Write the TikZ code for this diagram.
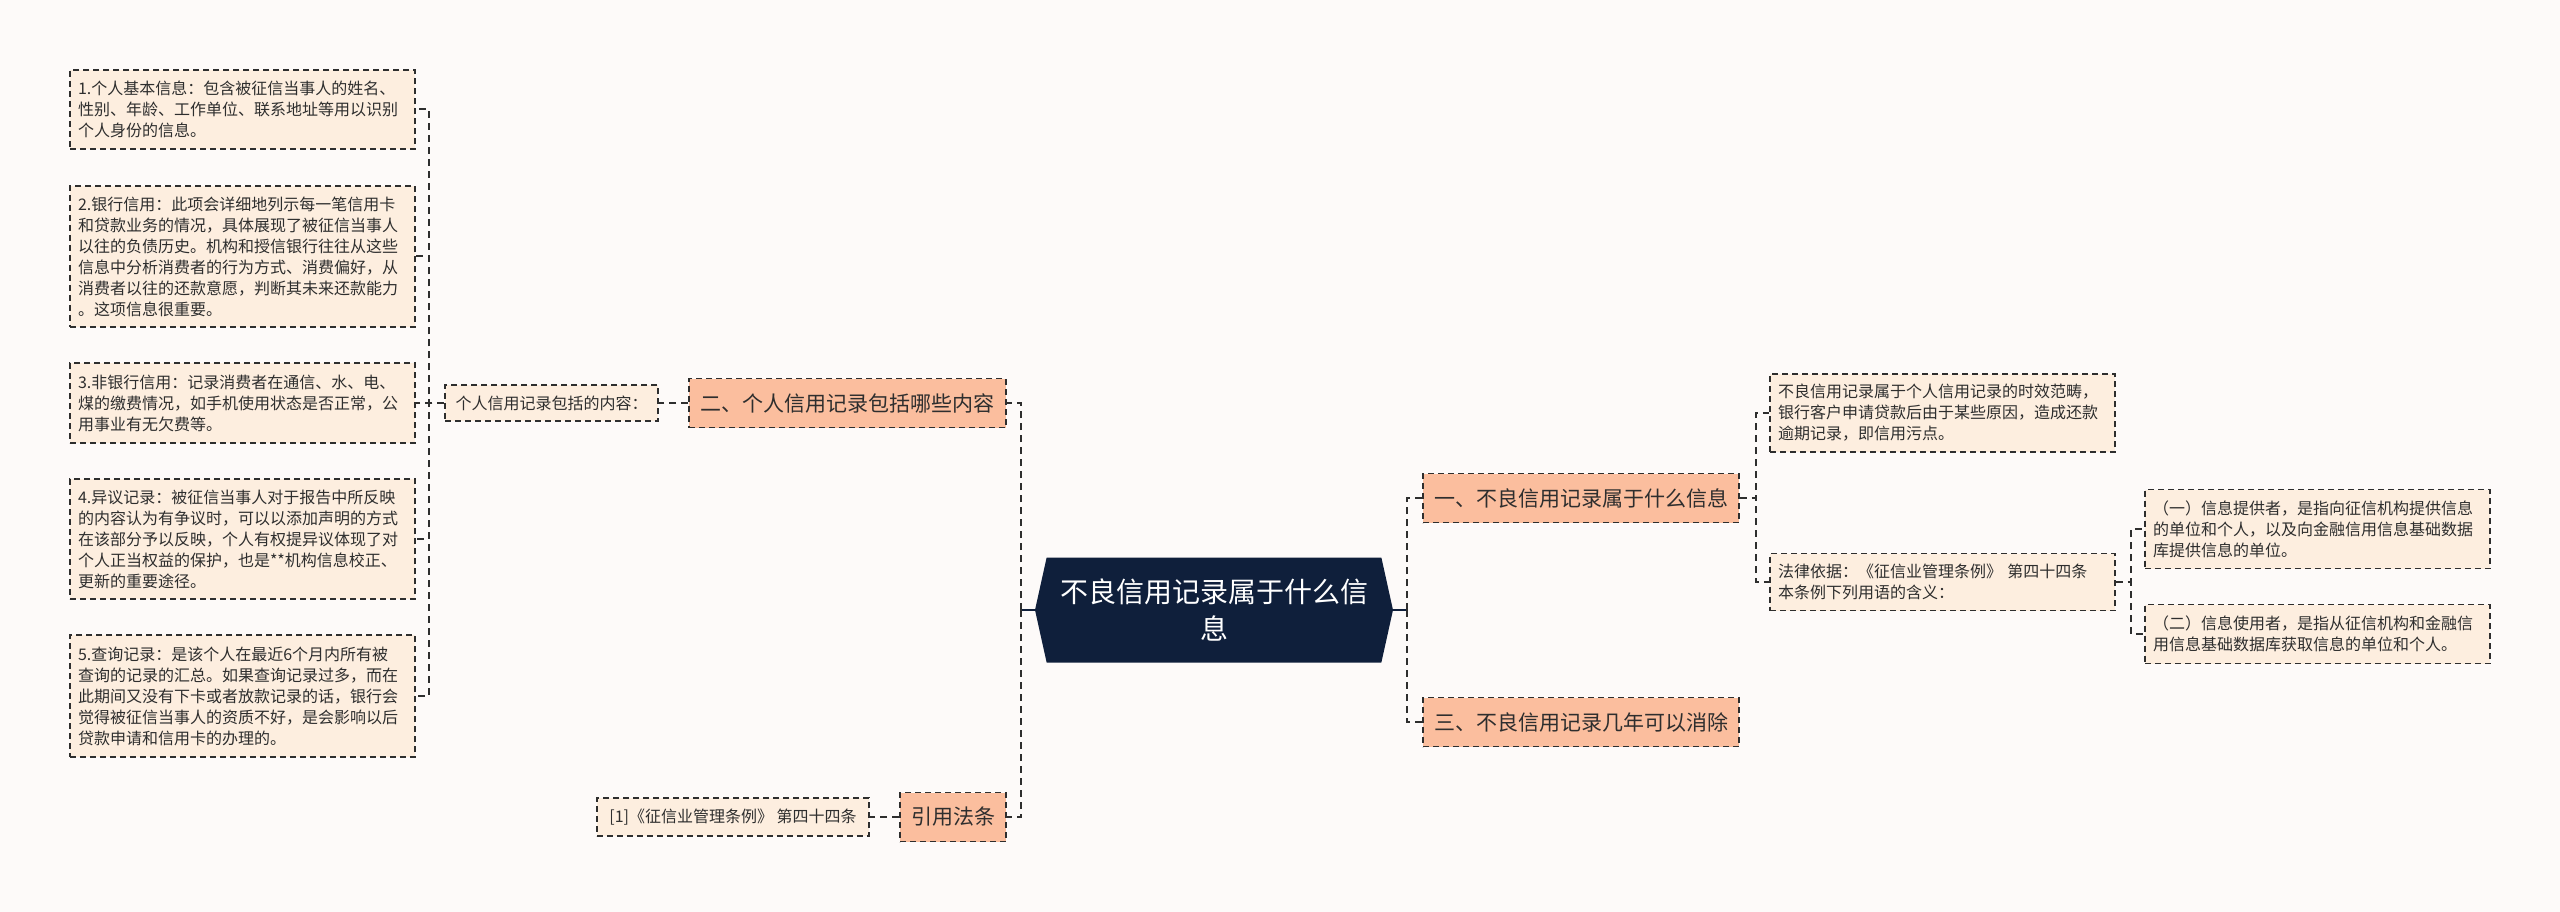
\documentclass[tikz,border=0pt]{standalone}
\usepackage{fontspec}
\setmainfont{Noto Sans CJK SC}
\usepackage{tikz}
\usetikzlibrary{shapes.symbols, positioning, backgrounds}
\definecolor{bgc}{HTML}{FDFAF9}
\definecolor{leafc}{HTML}{FDEEDF}
\definecolor{topicc}{HTML}{FBBE9E}
\definecolor{rootc}{HTML}{0F1F3B}
\definecolor{inkc}{HTML}{2E2E2E}
\tikzstyle{leaf} = [rectangle, draw=inkc, line width=1.9pt, dash pattern=on 6pt off 4pt, fill=leafc, text=inkc, font=\fontsize{16}{21}\selectfont, align=left, text width=329pt, inner xsep=8pt, inner ysep=2pt]
\tikzstyle{note} = [rectangle, draw=inkc, line width=1.9pt, dash pattern=on 6pt off 4pt, fill=leafc, text=inkc, font=\fontsize{16}{21}\selectfont, inner xsep=8pt, inner ysep=2pt]
\tikzstyle{topic} = [rectangle, draw=inkc, line width=1.9pt, dash pattern=on 6pt off 4pt, fill=topicc, text=inkc, font=\fontsize{21}{26}\selectfont, minimum height=49pt, inner xsep=10pt]
\tikzstyle{root} = [signal, signal to=west and east, signal pointer angle=155, fill=rootc, text=white, font=\fontsize{28}{37}\selectfont, align=center, minimum width=358pt, minimum height=105pt]
\tikzstyle{link} = [draw=inkc, line width=2pt, dash pattern=on 7pt off 5pt]
\tikzstyle{stub} = [draw=rootc, line width=2.2pt]

\begin{document}
\begin{tikzpicture}[x=1pt, y=-1pt, background rectangle/.style={fill=bgc}, inner frame sep=0pt, show background rectangle]
    \useasboundingbox (0,0) rectangle (2560,912);

    % centre
    \node (root) [root] at (1214, 610) {不良信用记录属于什么信\\息};

    % left branch
    \node (er) [topic, minimum width=317pt] at (847.5, 403) {二、个人信用记录包括哪些内容};
    \node (geren) [note, minimum width=213pt, minimum height=36pt] at (551.5, 403) {个人信用记录包括的内容：};
    \node (leaf1) [leaf, minimum height=79pt] at (242.5, 109.5) {1.个人基本信息：包含被征信当事人的姓名、\\性别、年龄、工作单位、联系地址等用以识别\\个人身份的信息。};
    \node (leaf2) [leaf, minimum height=141pt] at (242.5, 256.5) {2.银行信用：此项会详细地列示每一笔信用卡\\和贷款业务的情况，具体展现了被征信当事人\\以往的负债历史。机构和授信银行往往从这些\\信息中分析消费者的行为方式、消费偏好，从\\消费者以往的还款意愿，判断其未来还款能力\\。这项信息很重要。};
    \node (leaf3) [leaf, minimum height=80pt] at (242.5, 403) {3.非银行信用：记录消费者在通信、水、电、\\煤的缴费情况，如手机使用状态是否正常，公\\用事业有无欠费等。};
    \node (leaf4) [leaf, minimum height=120pt] at (242.5, 539) {4.异议记录：被征信当事人对于报告中所反映\\的内容认为有争议时，可以以添加声明的方式\\在该部分予以反映，个人有权提异议体现了对\\个人正当权益的保护，也是**机构信息校正、\\更新的重要途径。};
    \node (leaf5) [leaf, minimum height=122pt] at (242.5, 696) {5.查询记录：是该个人在最近6个月内所有被\\查询的记录的汇总。如果查询记录过多，而在\\此期间又没有下卡或者放款记录的话，银行会\\觉得被征信当事人的资质不好，是会影响以后\\贷款申请和信用卡的办理的。};
    \node (yin) [topic, minimum width=106pt] at (953, 817) {引用法条};
    \node (ref) [note, minimum width=272pt, minimum height=38pt] at (733, 817) {[1]《征信业管理条例》 第四十四条};

    % right branch
    \node (yi) [topic, minimum width=316pt] at (1581, 498) {一、不良信用记录属于什么信息};
    \node (san) [topic, minimum width=316pt] at (1581, 722) {三、不良信用记录几年可以消除};
    \node (fanchou) [leaf, minimum height=78pt] at (1942.5, 413) {不良信用记录属于个人信用记录的时效范畴，\\银行客户申请贷款后由于某些原因，造成还款\\逾期记录，即信用污点。};
    \node (yiju) [leaf, minimum height=57pt] at (1942.5, 582) {法律依据：《征信业管理条例》 第四十四条\\本条例下列用语的含义：};
    \node (tigong) [leaf, minimum height=79pt] at (2317.5, 529) {（一）信息提供者，是指向征信机构提供信息\\的单位和个人，以及向金融信用信息基础数据\\库提供信息的单位。};
    \node (shiyong) [leaf, minimum height=59pt] at (2317.5, 634) {（二）信息使用者，是指从征信机构和金融信\\用信息基础数据库获取信息的单位和个人。};

    % connectors
    \draw [stub] (root.west) -- ++(-14, 0) coordinate (lj);
    \draw [stub] (root.east) -- ++(14, 0) coordinate (rj);
    \draw [link] (lj) |- (er.east);
    \draw [link] (lj) |- (yin.east);
    \draw [link] (er.west) -- (geren.east);
    \draw [link] (yin.west) -- (ref.east);
    \foreach \n in {1,...,5}
        \draw [link] (geren.west) -- ++(-15, 0) |- (leaf\n.east);
    \draw [link] (rj) |- (yi.west);
    \draw [link] (rj) |- (san.west);
    \draw [link] (yi.east) -- ++(16, 0) |- (fanchou.west);
    \draw [link] (yi.east) -- ++(16, 0) |- (yiju.west);
    \draw [link] (yiju.east) -- ++(15, 0) |- (tigong.west);
    \draw [link] (yiju.east) -- ++(15, 0) |- (shiyong.west);

\end{tikzpicture}
\end{document}
